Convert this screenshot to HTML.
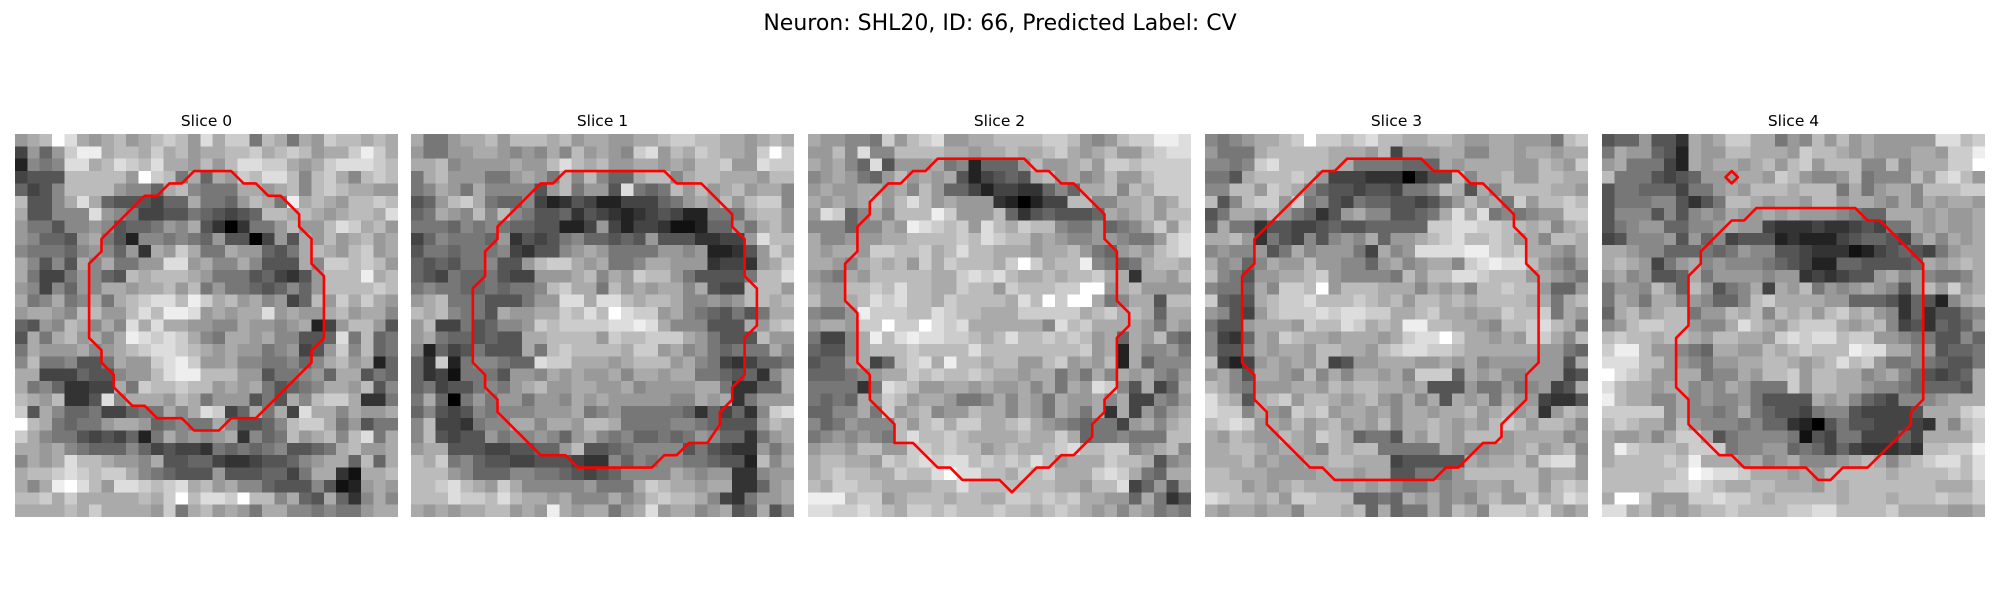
<!DOCTYPE html>
<html><head><meta charset="utf-8"><style>
html,body{margin:0;padding:0;background:#fff;}
svg{display:block;font-family:"DejaVu Sans","Liberation Sans",sans-serif;}
</style></head><body>
<svg id="fig" width="2000" height="600" viewBox="0 0 2000 600" xmlns="http://www.w3.org/2000/svg">
<rect width="2000" height="600" fill="#fff"/>
<text x="1000" y="30" text-anchor="middle" font-size="22" fill="#000">Neuron: SHL20, ID: 66, Predicted Label: CV</text>
<g id="panels"></g>
</svg>
<script>
const sliceTitles = ["Slice 0","Slice 1","Slice 2","Slice 3","Slice 4"];
const img0 = ["9abfda9ab9abcb9dacc7ba7a9cbbaba","4969ceeabbacab9aabbcabcb9aaceca","2878ddabdcbdaa9b9bddcca9acdddcb","4555bbbbb9fcb7a6a9cbddb8bca8bcb","6458bbbb9886ab8777aa9ab8bcbaa99","b558ada6555466a7769ba7eaba9bbcb","a55888d9874455765456bbaba9abbad","97758898566798a5303779b99bdcab9","986659a7528878769550495a9b9ab9a","87776898693a9ca77a99657aba9bc9a","a8585a8a7799dd9a88a8555a8ccbcb9","a74479865babbba9777564359bbbeab","9848698aa9aab9b7977656869bbbbcb","a78a78a7abcddbecab9a8946b9caca9","9aa98bb99bdbeed9a9aad9a99ab9aa8","6598ba8a8dadaa9988a9989a249bb95","5a7ab9a8aedcdca87aa9a88556d7b67","7a999a89abcddcba9a99789459c8b67","8b778557a99cdec99a8877868ab9a26","aa444655899bdeebbb99577896aa576","a7863344a7cbbcbb9a9a75678aa9b58","ba9b335d8aaa9ba7999575a8bcca337","c5a866744677a8adc46a7a4daa8a99a","fba76779aa967877a85568bcca79577","ca8775454627a8989a3867b9ab8bd7a","aa9a8766686454437676785567ab99a","8a9adbba998a5566433455689aa6b6a","abbcdcbcca87655595556647aa31aab","a8aefdb9ddcbcdab9a88655585129a9","bbcacaaaaabacfbddcfbb8a65a638a8","aaaabacaaaa9c7ab9a97aa8878779aa"];
const img1 = ["a779aab9bbbab9aa99aabccbbaa9aba","97799aa9898a8b9a98cd9bacbaa9cfc","aab89999a99bdbab99aa9a9bbc99dcc","7ab999779a97b8b866abb8abbaaa9bb","78a97a888859b7995d767b9b9ab9aa8","569bca76684235422444679a9b9bcc8","67a98b8b8755635432345422777abb9","7776878766552249424431126697ab9","4687776935457866565955533449dbb","57767778435589a97777998922359ca","6565778559bcca9a778aa99934439ac","6547667544999ab8a9cbb9755557bbd","78776676778bcaa7b9a9aa8a544bbb9","9ab777555799ddaddbabba88989bbab","bab8775a99aacbdbfdcc9a8765757aa","9b44756889cbccccddeda888555a9bc","9a7665655aabbbb9cbbccca97555b99","826457555a7bcbbbbacc9a8976777a8","63c2788766dccaaa9abbb9a87434667","63417775998a9a99a8aa9aa7765638a","674557879ab99aa99a89999aa73366a","7a60797997998a9a9999988a9a37999","6854587888999a789777776364638cd","8b443788aa8aa9bba777788765559ba","8b545597889869a878667679866379a","9aa5554455669b55678888575433979","bac7865544555433868788776552b8a","bbb986668877654568888a989933899","bbcdba9ca888889777acbaa9aa3369a","bbbdccbdbaa9a888a89bcbba843799a","a9a9aabb9a9ea9aa79ad9aa89a56a58"];
const img2 = ["a99887c9bcd99aabbbbccb989bcceed","99b8d88bbbbaa9aabaabca9ab99bcdd","a9a86d5999a7826669b99ab9ccbcccc","89a9769b9a9a524565ab9a89b99bccc","9a99aa9a8b966424433686aab8baccc","a9a9ab9bdb9a999320244bb88aab9ac","9dc68a8bbbec999b63565556a9ab9bb","888688a9edcbc9dbacbb8779678ac9c","a88999aabbbbcbdcbb9a988998779cd","a9aa9ccbbcabdbbaaa9aab9769a9bcd","aa98abab9cacbbbacfcabbe8767abba","987a9bbbbbaacdcdbaababbcaa3aa9b","a99bbcbdbbaacbb9cbbbccff9ab9999","b99abdcdbbacbbbbadbfcffa78aa5bb","8779ecccbbdcbbaaacccccabcaba6aa","9aa9ccfccfdcdaaaaaa8dbcaaaa97a9","7448aebdeddccbabdbbcbcb9a6a9b76","6558abbbcbbbbdbbbbbbbbc9a2a8897","5669a46bcdaebbabb99bc9a9b2a6888","666789aacbcbbcbaa9aa797a8a9a879","777737dcb99aa9a99a8a7a9dc85a46a","7676a9cb9aa9778a8a97a99a8a44879","6688a7c9ab899baa8a97a97a3a4979a","8679888b9bcaccaabca98767749a8ab","7898987bdbbcbaaaabaaca6778777bb","9aa9bb99ccbcbb9abaabcdbbcc89ab8","abbaa9cbcdcddbcbcbdb9aaacbba589","abcbbaacbbdfddbbacbcaaacdca76aa","baccbbaaaabbdbbbbbbbaa9bbd46959","eeebcc9abbbabbaaccbcbcaa996a735","ddccdcbaccbcbbbcbbabcba9a8a9787"];
const img3 = ["8789aabcfccbcdbbaabba99aa9997bc","9777abbbbbaaa9b4999aa88aa9aa9aa","8878cdbbbbaa7777666a9aaaa99ba9c","775abbbcb94443330355b8aab99bbaa","88bb9cba86554554778ba5a8bbbbaa9","b58bcc9c7854766554579b9a7c9bbcb","57aa9b976359a885567adad787899cc","6a7735544565566666ccddccbbab8ab","aab9375485898a699abcdbbcb9a8bba","8988957a899974a89ddddeecbcaa98a","a8968a99b998869a89aa8cdeddb9879","b87599aabc988887b9bbddcbbb9a987","8776a8ccbf9bbbaaa8a9a8bbcbb9669","c655abccdbbbcbab9bbababbbbaa7ab","98549bcccdcddccaabcaa9aacbbc7a9","7559aaa9cbbdcabaeebbaa98bbcdba7","8436a9cbaa9aaa9acddfcaa9a9cca8b","8558a9aa9bbaa9bcddccbaaaaaa9976","b4249a9a9b4599aaa99a9a89999995a","9a85aa98b8a8aa9a8ccc6a9a8899945","ba87999aa9babbaa9a555977978945a","dba5abc9bba9ab98a8a5a9a7a994335","dcc8a98cbc9aa9a8aa9aab9ab9a39ba","bcdc9a9b9ab9a9b8aaba9a9bcb9bba8","a9ba99ba9cba6775a9ba9bbb9aaaa89","aabba9aa98babb77777a98899ab9ab8","aaab9a99aabbaaa455555a9aab9cdd9","bbaaa9999aaa9aa557779bbbbbb9aa9","bbb9a9abaaa9a9a8779899aa9bb9bcb","dcbbab9ccbbb6676a9a898ab99cabdc","a9aa9aa8bbbab6a677a8ba8cccbda9a"];
const img4 = ["5669553a9accaa798b9b9a99999ddbc","7a99652a99bbaaa9cbba9a999aa9cce","9a77742a9aa9ab9bc9bbb88b8aaaccf","b7775456999aa9cb9889b7888b9cdb9","5776664779a9bbbabbb7a79aa8bbbcc","5777885357bba9aa9bb9aa98a8a9aa9","5888585898a99a9a9998766aaa9a99a","5789966889a99433343345477a9a99a","45888959684555232224566548a8a9a","aa988666767988554333124565479aa","aba9479a898887654226655556a9aba","9a89556a799998993434559a898778a","7998b96b9578a4a9b7989a9859b9c9a","7a97aa898668bcaaaa99666536528ab","6ab9abb799bab8bab9bcab983635578","89bccbb988adba9bccca9ab84536569","bcbbabba9bbaa9cdcddbcc998775586","ceeb99876aa99babcbbbeddaa895667","dddbb998799aabba9abdbc977876557","fdcb99aa788a9bbc9bbaa89a865456a","dbaa9aa898a9777c9bbaa988766665a","ebaa88a8988975555a9a86548889aaa","ccccc8a8878a76554788544445aaacd","bcbaa8b98887866320575544443a8bc","a99a8acca57888871547744464aaaac","aecbbbaccc7889967646433343bbcce","abbbbcbeaaa9a89a8889aba8abcddbd","bbbbbbcfeddcaaa9a9bbbbbabbbbcbd","bbbbbccdcbaabbaaa9babbbbbbbaaac","affc999ccdccbabbbbbabbbabbbcbbc","ddab9a9abbcbbbbccddbbbbcaaaa99a"];
const images = [img0, img1, img2, img3, img4];
const contour0 = [[14,2.5],[17,2.5],[18,3.5],[19,3.5],[20,4.5],[21,4.5],[22.5,6],[22.5,7],[23.5,8],[23.5,10],[24.5,11],[24.5,16],[23.5,17],[23.5,18],[19,22.5],[17,22.5],[16,23.5],[14,23.5],[13,22.5],[11,22.5],[10,21.5],[9,21.5],[7.5,20],[7.5,19],[6.5,18],[6.5,17],[5.5,16],[5.5,10],[6.5,9],[6.5,8],[10,4.5],[11,4.5],[12,3.5],[13,3.5]];
const contour1 = [[12,2.5],[20,2.5],[21,3.5],[23,3.5],[25.5,6],[25.5,7],[26.5,8],[26.5,11],[27.5,12],[27.5,15],[26.5,16],[26.5,19],[25.5,20],[25.5,21],[24.5,22],[24.5,23],[23.5,24.5],[22,24.5],[21,25.5],[20,25.5],[19,26.5],[13,26.5],[12,25.5],[10,25.5],[6.5,22],[6.5,21],[5.5,20],[5.5,19],[4.5,18],[4.5,12],[5.5,11],[5.5,9],[6.5,8],[6.5,7],[10,3.5],[11,3.5]];
const contour2 = [[10,1.5],[17,1.5],[18,2.5],[19,2.5],[20,3.5],[21,3.5],[23.5,6],[23.5,8],[24.5,9],[24.5,13],[25.5,14],[25.5,15],[24.5,16],[24.5,20],[23.5,21],[23.5,22],[22.5,23],[22.5,24],[21,25.5],[20,25.5],[19,26.5],[18,26.5],[16,28.5],[15,27.5],[12,27.5],[11,26.5],[10,26.5],[8,24.5],[6.5,24.5],[6.5,23],[4.5,21],[4.5,19],[3.5,18],[3.5,14],[2.5,13],[2.5,10],[3.5,9],[3.5,7],[4.5,6],[4.5,5],[6,3.5],[7,3.5],[8,2.5],[9,2.5]];
const contour3 = [[11,1.5],[17,1.5],[18,2.5],[20,2.5],[21,3.5],[22,3.5],[24.5,6],[24.5,7],[25.5,8],[25.5,10],[26.5,11],[26.5,18],[25.5,19],[25.5,21],[23.5,23],[23.5,24],[23,24.5],[22,24.5],[20,26.5],[19,26.5],[18,27.5],[10,27.5],[9,26.5],[8,26.5],[4.5,23],[4.5,22],[3.5,21],[3.5,19],[2.5,18],[2.5,11],[3.5,10],[3.5,8],[9,2.5],[10,2.5]];
const contour4 = [[12,5.5],[20,5.5],[21,6.5],[22,6.5],[25.5,10],[25.5,21],[24.5,22],[24.5,23],[21,26.5],[19,26.5],[18,27.5],[17,27.5],[16,26.5],[11,26.5],[10,25.5],[9,25.5],[6.5,23],[6.5,21],[5.5,20],[5.5,16],[6.5,15],[6.5,11],[7.5,10],[7.5,9],[10,6.5],[11,6.5]];
const contour4b = [[9.5,3],[10,2.5],[10.5,3],[10,3.5]];
const contours = [[contour0],[contour1],[contour2],[contour3],[contour4, contour4b]];

const NS = "http://www.w3.org/2000/svg";
const panelX = [15, 411, 808, 1205, 1602];
const panelY = 134, panelSize = 383, N = 31;
const cell = panelSize / N;
const root = document.getElementById('panels');
function xScale(p, c) { return panelX[p] + (c + 0.5) * cell; }
function yScale(r) { return panelY + (r + 0.5) * cell; }

images.forEach((rows, p) => {
  const g = document.createElementNS(NS, 'g');
  
  
  root.appendChild(g);
  const t = document.createElementNS(NS, 'text');
  
  
  t.setAttribute('x', panelX[p] + panelSize / 2);
  t.setAttribute('y', 126);
  t.setAttribute('text-anchor', 'middle');
  t.setAttribute('font-size', '15.5');
  t.textContent = sliceTitles[p];
  g.appendChild(t);
  const hm = document.createElementNS(NS, 'g');
  
  
  hm.setAttribute('shape-rendering', 'crispEdges');
  g.appendChild(hm);
  for (let r = 0; r < N; r++) {
    const row = rows[r] || '';
    for (let c = 0; c < N; c++) {
      const ch = row[c] || '9';
      const v = Math.round(parseInt(ch, 16) / 15 * 255);
      const rc = document.createElementNS(NS, 'rect');
      
      
      const x0 = xScale(p, c - 0.5), y0 = yScale(r - 0.5);
      rc.setAttribute('x', x0.toFixed(2));
      rc.setAttribute('y', y0.toFixed(2));
      rc.setAttribute('width', (c === N - 1 ? cell : cell + 0.6).toFixed(2));
      rc.setAttribute('height', (r === N - 1 ? cell : cell + 0.6).toFixed(2));
      rc.setAttribute('fill', 'rgb(' + v + ',' + v + ',' + v + ')');
      hm.appendChild(rc);
    }
  }
  contours[p].forEach((pts, k) => {
    const pl = document.createElementNS(NS, 'polygon');
    
    
    pl.setAttribute('points', pts.map(q => xScale(p, q[0]).toFixed(1) + ',' + yScale(q[1]).toFixed(1)).join(' '));
    pl.setAttribute('fill', 'none');
    pl.setAttribute('stroke', '#ff0000');
    pl.setAttribute('stroke-width', '2.6');
    pl.setAttribute('stroke-linejoin', 'round');
    g.appendChild(pl);
  });
});
</script>
</body></html>
